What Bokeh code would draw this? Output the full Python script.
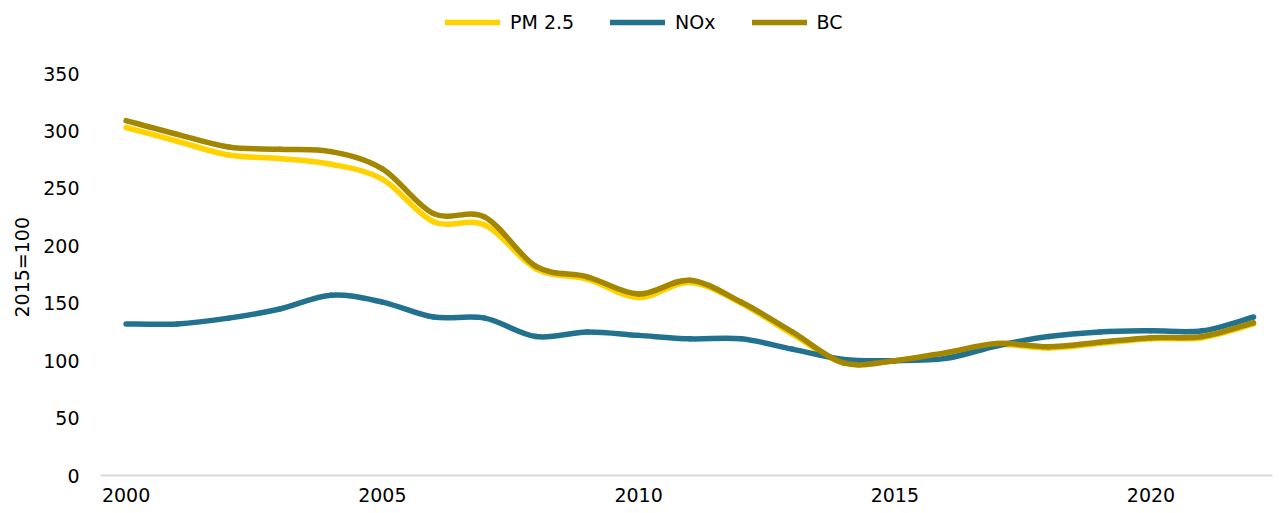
from bokeh.plotting import figure
from bokeh.models import Range1d, Legend, LegendItem, FixedTicker, ColumnDataSource, Title
from bokeh.embed import file_html
from bokeh.resources import INLINE

years = list(range(2000, 2023))
pm25 = [303, 291, 279, 276, 271, 258, 221, 218, 180, 171, 155, 168, 150, 123, 98, 100, 106, 114, 111, 115, 119, 120, 132]
nox = [132, 132, 137, 145, 157, 151, 138, 137, 121, 125, 122, 119, 119, 110, 101, 100, 102, 113, 121, 125, 126, 126, 138]
bc = [309, 297, 286, 284, 282, 267, 228, 225, 182, 173, 158, 170, 151, 125, 98, 100, 107, 115, 112, 116, 120, 121, 133]
y_ticks = [0, 50, 100, 150, 200, 250, 300, 350]
x_ticks = [2000, 2005, 2010, 2015, 2020]

series_names = ["PM 2.5", "NOx", "BC"]
series_colors = ["#FFD200", "#22728F", "#A38700"]
FONT = "DejaVu Sans"
FS = "19px"

p = figure(frame_width=1172, frame_height=467, output_backend="svg", toolbar_location=None,
           x_range=Range1d(1999.5, 2022.37), y_range=Range1d(0, 406.6),
           min_border_left=90, min_border_right=1, min_border_top=8, min_border_bottom=10)
p.outline_line_color = None
p.xgrid.grid_line_color = None
p.ygrid.grid_line_color = None

p.xaxis.ticker = FixedTicker(ticks=x_ticks)
p.xaxis.axis_line_color = "#D9D9D9"
p.xaxis.axis_line_width = 2
p.xaxis.major_tick_line_color = None
p.xaxis.minor_tick_line_color = None
p.xaxis.major_label_text_font = FONT
p.xaxis.major_label_text_font_size = FS
p.xaxis.major_label_text_color = "#000000"
p.xaxis.major_label_standoff = 6

p.yaxis.ticker = FixedTicker(ticks=y_ticks)
p.yaxis.axis_line_color = None
p.yaxis.major_tick_line_color = None
p.yaxis.minor_tick_line_color = None
p.yaxis.major_label_text_font = FONT
p.yaxis.major_label_text_font_size = FS
p.yaxis.major_label_text_color = "#000000"
p.yaxis.major_label_standoff = 15

ytitle = Title(text="2015=100", align="left", offset=158, text_font=FONT, text_font_size=FS,
               text_font_style="normal", text_color="#000000", standoff=16)
p.add_layout(ytitle, "left")


def smooth_segments(xs, ys):
    n = len(xs)
    d = dict(x0=[], y0=[], x1=[], y1=[], cx0=[], cy0=[], cx1=[], cy1=[])
    for i in range(n - 1):
        x0, y0 = xs[i], ys[i]
        x1, y1 = xs[i + 1], ys[i + 1]
        xa, ya = (xs[i - 1], ys[i - 1]) if i > 0 else (x0, y0)
        xb, yb = (xs[i + 2], ys[i + 2]) if i + 2 < n else (x1, y1)
        d["x0"].append(x0); d["y0"].append(y0)
        d["x1"].append(x1); d["y1"].append(y1)
        d["cx0"].append(x0 + (x1 - xa) / 6.0); d["cy0"].append(y0 + (y1 - ya) / 6.0)
        d["cx1"].append(x1 - (xb - x0) / 6.0); d["cy1"].append(y1 - (yb - y0) / 6.0)
    return ColumnDataSource(d)


items = []
for name, vals, color in zip(series_names, [pm25, nox, bc], series_colors):
    src = smooth_segments(years, vals)
    r = p.bezier(x0="x0", y0="y0", x1="x1", y1="y1", cx0="cx0", cy0="cy0", cx1="cx1", cy1="cy1",
                 source=src, line_color=color, line_width=5.5, line_cap="round")
    items.append(LegendItem(label=name, renderers=[r], index=0))

legend = Legend(items=items, orientation="horizontal", location=(345, 442),
                label_text_font=FONT, label_text_font_size=FS, label_text_color="#000000",
                glyph_width=55, glyph_height=20, label_standoff=10, spacing=36,
                border_line_color=None, background_fill_alpha=0, padding=0, margin=0)
p.add_layout(legend, "center")

open("out.html", "w").write(file_html(p, INLINE))
